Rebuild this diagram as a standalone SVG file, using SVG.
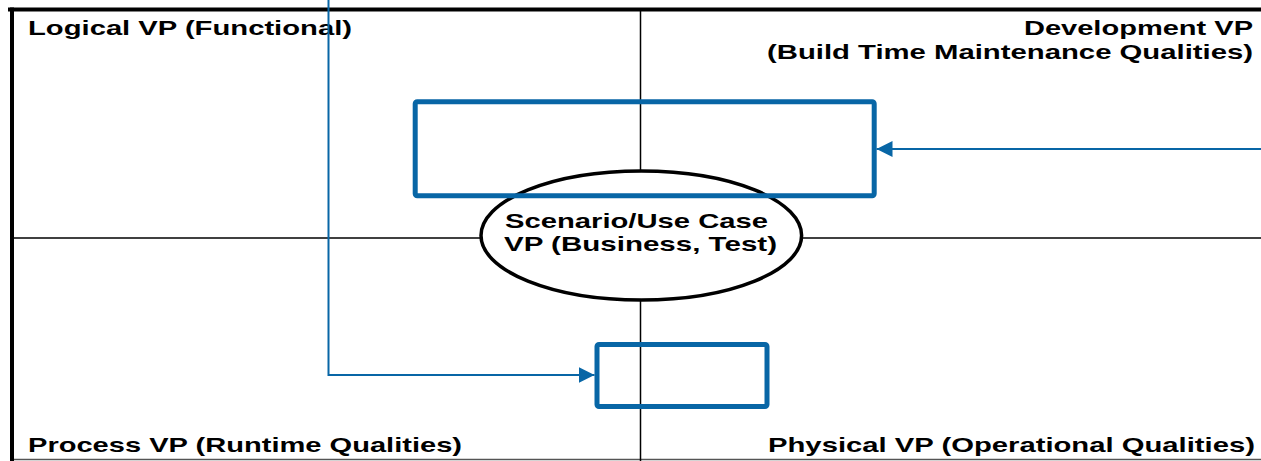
<svg xmlns="http://www.w3.org/2000/svg" width="1261" height="461" viewBox="0 0 1261 461">
  <style>
    .lbl { font-family: "Liberation Sans", Arial, sans-serif; font-weight: bold; font-size: 21px; fill: #000; }
    .grid { stroke: #000; stroke-width: 1.5; fill: none; }
    .box { fill: none; stroke: #0866a6; stroke-width: 5; }
    .conn { fill: none; stroke: #0866a6; stroke-width: 2; }
  </style>
  <defs>
    <marker id="arrow" viewBox="0 0 16 16" refX="16" refY="8" markerWidth="16" markerHeight="16" markerUnits="userSpaceOnUse" orient="auto">
      <path d="M0,0 L16,8 L0,16 Z" fill="#0866a6"/>
    </marker>
  </defs>
  <rect width="1261" height="461" fill="#fff"/>

  <g id="frame">
    <line x1="8" y1="9.5" x2="1261" y2="9.5" stroke="#000" stroke-width="4"/>
    <line x1="12" y1="7.5" x2="12" y2="461" stroke="#000" stroke-width="4"/>
    <line x1="14" y1="459.5" x2="1261" y2="459.5" stroke="#555" stroke-width="1.5"/>
    <line class="grid" x1="640.5" y1="11" x2="640.5" y2="461"/>
    <line class="grid" x1="14" y1="238" x2="1261" y2="238"/>
  </g>

  <g id="quadrant-labels">
    <text class="lbl" x="28" y="35" textLength="324" lengthAdjust="spacingAndGlyphs">Logical VP (Functional)</text>
    <text class="lbl" x="1024" y="35" textLength="229" lengthAdjust="spacingAndGlyphs">Development VP</text>
    <text class="lbl" x="767" y="59" textLength="486" lengthAdjust="spacingAndGlyphs">(Build Time Maintenance Qualities)</text>
    <text class="lbl" x="28" y="451.5" textLength="434" lengthAdjust="spacingAndGlyphs">Process VP (Runtime Qualities)</text>
    <text class="lbl" x="768" y="451.5" textLength="487" lengthAdjust="spacingAndGlyphs">Physical VP (Operational Qualities)</text>
  </g>

  <g id="scenario">
    <ellipse cx="641.3" cy="235.5" rx="160.3" ry="64.5" fill="#fff" stroke="#000" stroke-width="3.5"/>
    <text class="lbl" x="505" y="228" textLength="263" lengthAdjust="spacingAndGlyphs">Scenario/Use Case</text>
    <text class="lbl" x="504" y="251" textLength="273" lengthAdjust="spacingAndGlyphs">VP (Business, Test)</text>
  </g>

  <g id="box-top">
    <rect class="box" x="415.2" y="101.8" width="459" height="94" rx="2"/>
  </g>

  <g id="box-bottom">
    <rect class="box" x="597" y="344.5" width="170" height="62" rx="2"/>
  </g>

  <g id="connectors">
    <path class="conn" d="M1261,149 L876.5,149" marker-end="url(#arrow)"/>
    <path class="conn" d="M328.5,0 L328.5,375 L594.5,375" marker-end="url(#arrow)"/>
  </g>
</svg>
